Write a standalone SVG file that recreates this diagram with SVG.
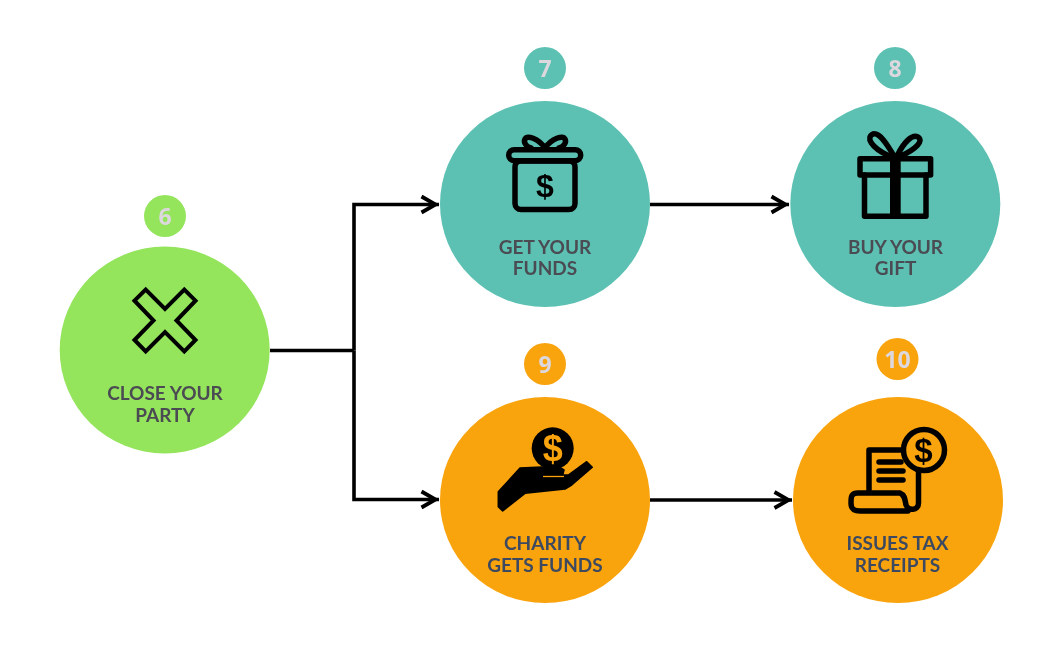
<svg xmlns="http://www.w3.org/2000/svg" width="1063" height="650" viewBox="0 0 1063 650">
<style>
.green{fill:#94e45c}.teal{fill:#5cc1b3}.orange{fill:#f9a30c}
.lbl{font-family:"Lato","Open Sans","Liberation Sans",sans-serif;font-weight:700;font-size:19px;text-anchor:middle;fill:#4b4b52}
.lo{fill:#3d4a60}
.num{font-family:"Open Sans","Liberation Sans",sans-serif;font-weight:700;font-size:23px;text-anchor:middle;fill:#dcd8de}
.ic{fill:none;stroke:#000;stroke-width:5.500;stroke-linejoin:round;stroke-linecap:round}
.dollar{font-family:"Liberation Sans",sans-serif;font-weight:700;text-anchor:middle;fill:#000}
.conn{fill:none;stroke:#000;stroke-width:3.600}
.soft{filter:url(#s)}
</style>
<defs>
<filter id="s" x="-5%" y="-5%" width="110%" height="110%"><feGaussianBlur stdDeviation="0.55"/></filter>
<marker id="arrow" markerUnits="userSpaceOnUse" markerWidth="24" markerHeight="24" refX="20.500" refY="12" orient="auto"><path d="M3 4 L17 12 L3 20" fill="none" stroke="#000" stroke-width="3.800" stroke-linejoin="miter"/></marker>
</defs>
<g id="connectors" class="soft">
<path class="conn" d="M270 350.500H354"/>
<path class="conn" d="M354 350.500V204.500H439" marker-end="url(#arrow)"/>
<path class="conn" d="M354 350.500V499.500H439" marker-end="url(#arrow)"/>
<path class="conn" d="M650 204.500H789" marker-end="url(#arrow)"/>
<path class="conn" d="M650 500H792" marker-end="url(#arrow)"/>
</g>
<g id="node6" class="soft">
<circle class="green" cx="165" cy="216" r="21"/>
<text class="num" x="165" y="225">6</text>
<ellipse class="green" cx="164.700" cy="350" rx="105" ry="103.500"/>
<path d="M134.500 300.700L145.700 289.500L165 309L184.300 289.500L195.500 300.700L176.500 320.500L195.500 340L184.300 351.500L165 332L145.700 351.500L134.500 340L153.500 320.500Z" fill="none" stroke="#000" stroke-width="4" stroke-linejoin="miter"/>
<text class="lbl" x="165" y="399.500">CLOSE YOUR</text>
<text class="lbl" x="165" y="421.500">PARTY</text>
</g>
<g id="node7" class="soft">
<circle class="teal" cx="545" cy="68" r="21"/>
<text class="num" x="545" y="77">7</text>
<ellipse class="teal" cx="545" cy="204" rx="105" ry="103"/>
<rect class="ic" x="508.700" y="149.700" width="72" height="11" rx="5.500"/>
<rect class="ic" x="515" y="161" width="60" height="48.500" rx="6"/>
<path class="ic" d="M545 148C538 138 527 135 525 139C523 143 527 147 531 148M545 148C552 138 563 135 565 139C567 143 563 147 559 148"/>
<text class="dollar" x="545" y="196.500" font-size="32">$</text>
<text class="lbl" x="545" y="253.500">GET YOUR</text>
<text class="lbl" x="545" y="275">FUNDS</text>
</g>
<g id="node8" class="soft">
<circle class="teal" cx="895" cy="68" r="21"/>
<text class="num" x="895" y="77">8</text>
<ellipse class="teal" cx="895.300" cy="204" rx="105" ry="103"/>
<path class="ic" d="M860 158.700H930.600V175H860Z" stroke-linejoin="miter"/>
<path class="ic" d="M864.500 175V216.300H926V175" stroke-linejoin="miter"/>
<rect x="890" y="156" width="10.700" height="62"/>
<path class="ic" d="M894 156C888 146 880 132 873 134C866 137 870 147 889 156M897 156C904 142 912 134 918 137C924 141 916 149 901 156"/>
<text class="lbl" x="895.500" y="253.500">BUY YOUR</text>
<text class="lbl" x="895.500" y="275">GIFT</text>
</g>
<g id="node9" class="soft">
<circle class="orange" cx="545" cy="364" r="21"/>
<text class="num" x="545" y="373">9</text>
<ellipse class="orange" cx="545" cy="500" rx="105" ry="103"/>
<circle cx="552.700" cy="448.300" r="21"/>
<text class="dollar" x="552.700" y="461" font-size="36" style="fill:#f9a30c">$</text>
<path d="M498.300 491.700L498.300 506.700L502.700 511L525 493.300L565 489L571.700 485L592.300 467.300L586.700 461.700L568.300 475L562.700 475L564 470L558.300 466.300L520 468Z" stroke="#000" stroke-width="1.500" stroke-linejoin="round"/>
<path d="M543 476.500H564" stroke="#f9a30c" stroke-width="1.300" fill="none"/>
<text class="lbl lo" x="545" y="549.500">CHARITY</text>
<text class="lbl lo" x="545" y="571.500">GETS FUNDS</text>
</g>
<g id="node10" class="soft">
<circle class="orange" cx="897.500" cy="359" r="21"/>
<text class="num" x="897.500" y="368">10</text>
<ellipse class="orange" cx="898" cy="500" rx="105" ry="103"/>
<circle class="ic" cx="924" cy="450" r="20.500" stroke-width="5"/>
<text class="dollar" x="923.500" y="462" font-size="33">$</text>
<path class="ic" stroke-width="4.800" d="M903 450H869V492"/>
<path class="ic" stroke-width="4.800" d="M918.500 473V503C918.500 511 908 511 906 505C905 500 905 495 900 493H858C851 493 851 497 851 503C851 509 854 511 860 511H908"/>
<path class="ic" stroke-width="3.800" d="M879 462H901M879 471H903M879 480H903"/>
<text class="lbl lo" x="897.500" y="550">ISSUES TAX</text>
<text class="lbl lo" x="897.500" y="571.500">RECEIPTS</text>
</g>
</svg>
